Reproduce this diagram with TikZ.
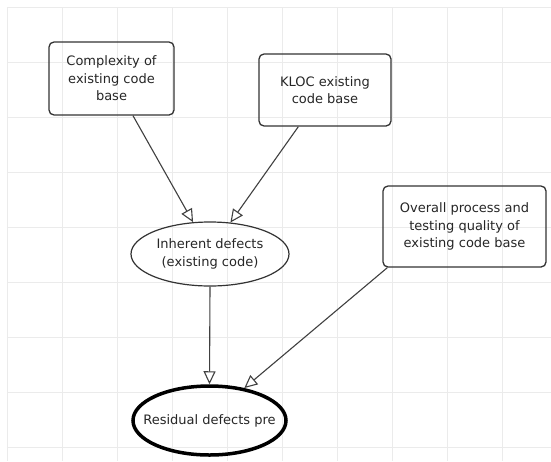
\documentclass[tikz,border=0pt]{standalone}
\usepackage{fontspec}
\setmainfont{DejaVu Sans}
\usetikzlibrary{arrows.meta,calc,shapes.geometric}
\begin{document}
\begin{tikzpicture}[x=1pt,y=-1pt,
  every node/.style={font=\fontsize{13}{17.5}\selectfont, text=black!85},
  factor/.style={draw=black!80, line width=1.3pt, rounded corners=5pt, align=center, inner sep=0pt},
  oval/.style={ellipse, draw=black!80, line width=1.2pt, align=center, inner ysep=0pt, inner xsep=-15pt},
  link/.style={draw=black!75, line width=1.1pt, -{Triangle[open, length=13pt, width=12pt, line width=1.1pt]}},
  gridline/.style={draw=black!8, line width=0.8pt}]
\useasboundingbox (0,0) rectangle (551,461);
\fill[white] (0,0) rectangle (551,461);
\foreach \gx in {7,62,...,502} \draw[gridline] (\gx,7) -- (\gx,461);
\foreach \gy in {7,62,...,447} \draw[gridline] (7,\gy) -- (551,\gy);

\node[factor, minimum width=125pt, minimum height=73pt] (cx) at (111.5,78.5) {Complexity of\\existing code\\base};
\node[factor, minimum width=132pt, minimum height=72pt] (kl) at (325,90) {KLOC existing\\code base};
\node[factor, minimum width=163pt, minimum height=81pt] (ov) at (464.5,226.5) {Overall process and\\testing quality of\\existing code base};
\node[oval, minimum width=158pt, minimum height=64pt] (inh) at (210,254) {Inherent defects\\(existing code)};
\node[oval, line width=3.5pt, draw=black, minimum width=153pt, minimum height=69pt] (res) at (209.5,420.5) {Residual defects pre};

\draw[link] ($(cx.south west)!0.67!(cx.south east)$) -- (inh.118);
\draw[link] ($(kl.south west)!0.3!(kl.south east)$) -- (inh.57);
\draw[link] (inh.south) -- (res.north);
\draw[link] ($(ov.south west)+(5,0)$) -- (res.43);
\end{tikzpicture}
\end{document}
